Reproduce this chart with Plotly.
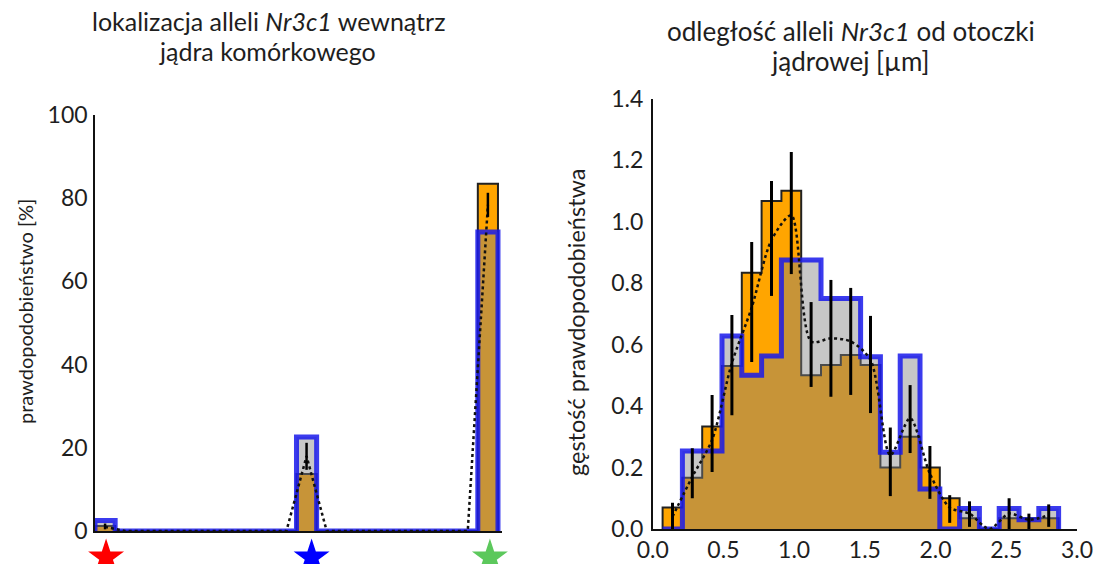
import plotly.graph_objects as go

# ---------------- left panel: allele position inside the nucleus ----------------
loc_bins = list(range(20))                 # radial bins of the nucleus
loc_nonzero_bins = [0, 10, 19]             # bins that hold alleles
loc_orange = [1.2, 13.7, 83.5]             # probability [%], orange histogram
loc_blue = [2.5, 22.6, 71.9]               # probability [%], blue-outlined histogram
loc_mean = [1.0, 18.0, 78.4]               # dotted curve
loc_err_lo = [0.4, 14.7, 75.5]
loc_err_hi = [1.8, 21.2, 81.3]
loc_star_pos = [0.05, 10.25, 19.1]         # star markers under the occupied bins
loc_star_colors = ["#ff0000", "#0000ff", "#5cc85c"]
loc_yticks = [0, 20, 40, 60, 80, 100]

# ---------------- right panel: distance to the nuclear envelope ----------------
dist_centers = [0.14, 0.28, 0.42, 0.56, 0.70, 0.84, 0.98, 1.12, 1.26, 1.40,
                1.54, 1.68, 1.82, 1.96, 2.10, 2.24, 2.38, 2.52, 2.66, 2.80]
dist_orange = [0.07, 0.167, 0.333, 0.53, 0.833, 1.067, 1.10, 0.50, 0.533, 0.566,
               0.533, 0.20, 0.30, 0.20, 0.10, 0.035, 0.0, 0.035, 0.035, 0.035]
dist_blue = [0.0, 0.254, 0.254, 0.628, 0.50, 0.563, 0.875, 0.875, 0.75, 0.75,
             0.56, 0.25, 0.563, 0.13, 0.0, 0.067, 0.0, 0.067, 0.03, 0.067]
dist_mean = [0.04, 0.17, 0.29, 0.54, 0.72, 0.94, 1.02, 0.61, 0.62, 0.61,
             0.55, 0.24, 0.36, 0.18, 0.07, 0.05, 0.0, 0.05, 0.03, 0.045]
dist_err_lo = [0.0, 0.10, 0.185, 0.37, 0.543, 0.758, 0.829, 0.462, 0.43, 0.436,
               0.377, 0.107, 0.247, 0.098, 0.02, 0.007, 0.0, 0.0, 0.0, 0.007]
dist_err_hi = [0.085, 0.263, 0.436, 0.696, 0.933, 1.132, 1.226, 0.738, 0.81, 0.784,
               0.693, 0.33, 0.468, 0.27, 0.11, 0.09, 0.0, 0.10, 0.05, 0.08]
dist_xticks = [0.0, 0.5, 1.0, 1.5, 2.0, 2.5, 3.0]
dist_yticks = [0.0, 0.2, 0.4, 0.6, 0.8, 1.0, 1.2, 1.4]

FONT = "Lato"
TXT = "#1e1e1e"
ORANGE = "#ffa500"
GRAY_FILL = "rgba(128,128,128,0.44)"
BLUE = "rgba(25,25,235,0.85)"


def step_outline(centers, width, values):
    """Closed step polygon of a histogram."""
    xs, ys = [centers[0] - width / 2], [0]
    for c, v in zip(centers, values):
        xs += [c - width / 2, c + width / 2]
        ys += [v, v]
    xs.append(centers[-1] + width / 2)
    ys.append(0)
    return xs, ys


def segments(xs, lo, hi):
    sx, sy = [], []
    for x, a, b in zip(xs, lo, hi):
        if b > a:
            sx += [x, x, None]
            sy += [a, b, None]
    return sx, sy


def spread(bins, nonzero, vals):
    out = [0.0] * len(bins)
    for b, v in zip(nonzero, vals):
        out[b] = v
    return out


fig = go.Figure()

# ---- left panel traces ----
lo_full = spread(loc_bins, loc_nonzero_bins, loc_orange)
lb_full = spread(loc_bins, loc_nonzero_bins, loc_blue)
lm_full = spread(loc_bins, loc_nonzero_bins, loc_mean)

x, y = step_outline(loc_bins, 1.0, lo_full)
fig.add_trace(go.Scatter(x=x, y=y, fill="toself", fillcolor=ORANGE, mode="lines",
                         line=dict(color="#222", width=2), xaxis="x", yaxis="y"))
x, y = step_outline(loc_bins, 1.0, lb_full)
fig.add_trace(go.Scatter(x=x, y=y, fill="toself", fillcolor=GRAY_FILL, mode="lines",
                         line=dict(color=BLUE, width=5), xaxis="x", yaxis="y"))
fig.add_trace(go.Scatter(x=loc_bins, y=lm_full, mode="lines",
                         line=dict(color="#111", width=2.5, dash="dot"),
                         xaxis="x", yaxis="y"))
sx, sy = segments([loc_bins[b] for b in loc_nonzero_bins], loc_err_lo, loc_err_hi)
fig.add_trace(go.Scatter(x=sx, y=sy, mode="lines", line=dict(color="#000", width=2.5),
                         xaxis="x", yaxis="y"))
# stars live on their own strip below the axis
fig.add_trace(go.Scatter(x=loc_star_pos, y=[0.2] * 3,
                         mode="markers", cliponaxis=False,
                         marker=dict(symbol="star", size=27, color=loc_star_colors,
                                     line=dict(width=0)),
                         xaxis="x", yaxis="y3"))

# ---- right panel traces ----
x, y = step_outline(dist_centers, 0.14, dist_orange)
fig.add_trace(go.Scatter(x=x, y=y, fill="toself", fillcolor=ORANGE, mode="lines",
                         line=dict(color="#222", width=2), xaxis="x2", yaxis="y2"))
x, y = step_outline(dist_centers, 0.14, dist_blue)
fig.add_trace(go.Scatter(x=x, y=y, fill="toself", fillcolor=GRAY_FILL, mode="lines",
                         line=dict(color=BLUE, width=5), xaxis="x2", yaxis="y2"))
fig.add_trace(go.Scatter(x=dist_centers, y=dist_mean, mode="lines",
                         line=dict(color="#111", width=2.5, dash="dot",
                                   shape="spline", smoothing=0.8),
                         xaxis="x2", yaxis="y2"))
sx, sy = segments(dist_centers, dist_err_lo, dist_err_hi)
fig.add_trace(go.Scatter(x=sx, y=sy, mode="lines", line=dict(color="#000", width=3),
                         xaxis="x2", yaxis="y2"))

W, H = 1096, 564
axis_common = dict(showgrid=False, zeroline=False, showline=True, linecolor="#111",
                   linewidth=1.5, ticks="", automargin=False,
                   tickfont=dict(family=FONT, size=23, color=TXT))

fig.update_layout(
    width=W, height=H,
    margin=dict(l=0, r=0, t=0, b=0, autoexpand=False),
    paper_bgcolor="white", plot_bgcolor="white",
    showlegend=False,
    xaxis=dict(domain=[95 / W, 502 / W], range=[-0.5, 19.7], showticklabels=False,
               **axis_common),
    yaxis=dict(domain=[(H - 531) / H, (H - 115) / H], range=[0, 100],
               tickvals=loc_yticks, ticklabelstandoff=1, **axis_common),
    yaxis3=dict(domain=[0, (H - 531) / H], range=[0, 1], visible=False, anchor="x",
                automargin=False),
    xaxis2=dict(domain=[652.7 / W, 1077 / W], range=[0, 3.0], tickvals=dist_xticks,
                tickformat=".1f", anchor="y2", **axis_common),
    yaxis2=dict(domain=[(H - 529) / H, (H - 98.5) / H], range=[0, 1.4],
                tickvals=dist_yticks, tickformat=".1f", anchor="x2",
                ticklabelstandoff=3, **axis_common),
)

def label(text, px, py, angle=0, size=21):
    fig.add_annotation(text=text, x=px / W, y=1 - py / H, xref="paper", yref="paper",
                       xanchor="center", yanchor="middle", showarrow=False,
                       textangle=angle, font=dict(family=FONT, size=size, color=TXT))

label("lokalizacja alleli <i>Nr3c1</i> wewnątrz", 268, 21, size=25)
label("jądra komórkowego", 267, 51, size=25)
label("odległość alleli <i>Nr3c1</i> od otoczki", 851, 31, size=26)
label("jądrowej [µm]", 850, 61, size=26)
label("prawdopodobieństwo [%]", 25, 312, angle=-90, size=20)
label("gęstość prawdopodobieństwa", 576, 322, angle=-90, size=23.5)

fig.write_html("out.html")
